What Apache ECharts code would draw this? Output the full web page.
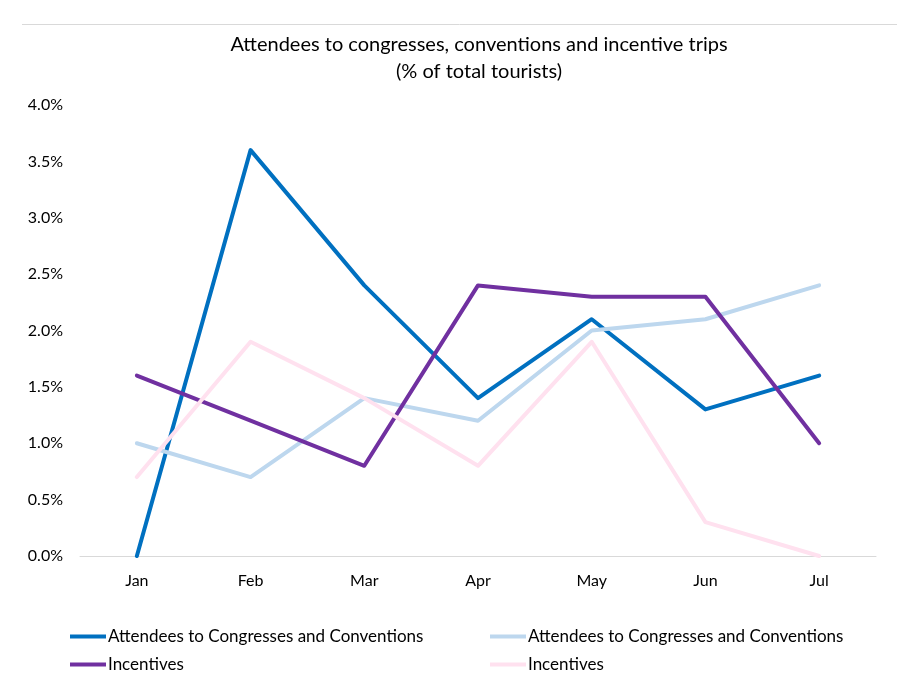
<!DOCTYPE html>
<html>
<head>
<meta charset="utf-8">
<script src="https://cdn.jsdelivr.net/npm/echarts@6/dist/echarts.min.js"></script>
<style>
  html, body { margin: 0; padding: 0; background: #fff; }
  #chart { width: 897px; height: 676px; }
</style>
</head>
<body>
<div id="chart"></div>
<script>
// Monthly share of total tourists (%)
const months = ['Jan', 'Feb', 'Mar', 'Apr', 'May', 'Jun', 'Jul'];
const congressesA = [0.0, 3.6, 2.4, 1.4, 2.1, 1.3, 1.6];
const congressesB = [1.0, 0.7, 1.4, 1.2, 2.0, 2.1, 2.4];
const incentivesA = [1.6, 1.2, 0.8, 2.4, 2.3, 2.3, 1.0];
const incentivesB = [0.7, 1.9, 1.4, 0.8, 1.9, 0.3, 0.0];
const yTicks = [0, 0.5, 1.0, 1.5, 2.0, 2.5, 3.0, 3.5, 4.0];

const FONT = 'Lato';
const seriesDefs = [
  { name: 'Attendees to Congresses and Conventions', data: congressesA, color: '#0070C0' },
  { name: 'Attendees to Congresses and Conventions ', data: congressesB, color: '#BDD7EE' },
  { name: 'Incentives', data: incentivesA, color: '#7030A0' },
  { name: 'Incentives ', data: incentivesB, color: '#FFE1EF' }
];
const legendPos = [
  { left: 70, top: 628 }, { left: 490, top: 628 },
  { left: 70, top: 656 }, { left: 490, top: 656 }
];

const chart = echarts.init(document.getElementById('chart'));
chart.setOption({
  animation: false,
  title: {
    text: 'Attendees to congresses, conventions and incentive trips\n(% of total tourists)',
    left: 474, top: 26, textAlign: 'center',
    textStyle: { fontFamily: FONT, fontSize: 20, fontWeight: 'normal', color: '#000', lineHeight: 27 }
  },
  graphic: [{
    type: 'line', shape: { x1: 22, y1: 24.5, x2: 897, y2: 24.5 },
    style: { stroke: '#d9d9d9', lineWidth: 1 }
  }],
  legend: seriesDefs.map((s, i) => ({
    data: [s.name], left: legendPos[i].left, top: legendPos[i].top,
    icon: 'rect', itemWidth: 36, itemHeight: 4, padding: 0,
    formatter: n => n.trim(),
    textStyle: { fontFamily: FONT, fontSize: 17, color: '#000', padding: [0, 0, 0, -3] }
  })),
  grid: { left: 80, right: 21, top: 105, bottom: 120, containLabel: false },
  xAxis: {
    type: 'category', data: months, boundaryGap: true,
    axisLine: { lineStyle: { color: '#d9d9d9', width: 1 } },
    axisTick: { show: false },
    axisLabel: { fontFamily: FONT, fontSize: 16, color: '#000', margin: 17 }
  },
  yAxis: {
    type: 'value', min: yTicks[0], max: yTicks[yTicks.length - 1], interval: 0.5,
    splitLine: { show: false },
    axisLine: { show: false }, axisTick: { show: false },
    axisLabel: { fontFamily: FONT, fontSize: 16, color: '#000', margin: 17,
      formatter: v => v.toFixed(1) + '%' }
  },
  series: seriesDefs.map(s => ({
    name: s.name, type: 'line', data: s.data, showSymbol: false, symbol: 'none',
    color: s.color, lineStyle: { color: s.color, width: 4, cap: 'round', join: 'round' },
    z: 2
  }))
});
</script>
</body>
</html>
